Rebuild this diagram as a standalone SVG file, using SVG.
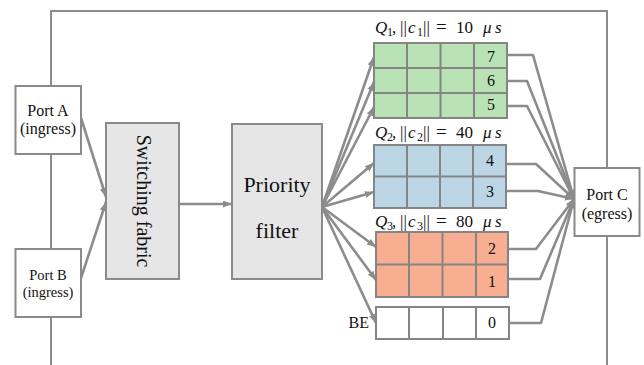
<svg xmlns="http://www.w3.org/2000/svg" width="644" height="365" viewBox="0 0 644 365">
<defs>
<marker id="ah" markerUnits="userSpaceOnUse" markerWidth="10" markerHeight="8" refX="9" refY="3.5" orient="auto">
<path d="M0,0 L9,3.5 L0,7 z" fill="#8c8c8c"/>
</marker>
<style>
.frame{fill:none;stroke:#8c8c8c;stroke-width:2}
.conn{fill:none;stroke:#8c8c8c;stroke-width:2.6;stroke-linejoin:round}
.arr{marker-end:url(#ah)}
.port{fill:#ffffff;stroke:#8a8a8a;stroke-width:2}
.proc{fill:#e6e6e6;stroke:#8a8a8a;stroke-width:2}
.cell{stroke:#858585;stroke-width:2}
.grid{stroke:#858585;stroke-width:2;fill:none}
.t{font-family:"Liberation Serif","Times New Roman",serif;fill:#111}
.it{font-style:italic}
</style>
</defs>
<rect width="644" height="365" fill="#ffffff"/>

<g id="frame">
<path class="frame" d="M51,365 V317 M51,249 V154 M51,86 V11 H607 V168 M607,236 V365"/>
</g>

<g id="connectors">
<line class="conn arr" x1="81" y1="118" x2="106" y2="197"/>
<line class="conn arr" x1="81" y1="278" x2="106" y2="202"/>
<line class="conn arr" x1="179" y1="204" x2="232" y2="204"/>
<line class="conn arr" x1="322" y1="207" x2="374" y2="57"/>
<line class="conn arr" x1="322" y1="207" x2="374" y2="82"/>
<line class="conn arr" x1="322" y1="207" x2="374" y2="107"/>
<line class="conn arr" x1="322" y1="207" x2="374" y2="163"/>
<line class="conn arr" x1="322" y1="207" x2="374" y2="192"/>
<line class="conn arr" x1="322" y1="207" x2="376" y2="247"/>
<line class="conn arr" x1="322" y1="207" x2="376" y2="280"/>
<line class="conn arr" x1="322" y1="207" x2="376" y2="323"/>
<polyline class="conn arr" points="507,55 533,55 574,199"/>
<polyline class="conn arr" points="507,81 527,81 574,199"/>
<polyline class="conn arr" points="507,106 527,106 574,199"/>
<polyline class="conn arr" points="506,164 536,164 574,199"/>
<polyline class="conn arr" points="506,191 538,191 574,199"/>
<polyline class="conn arr" points="508,249 536,249 574,199"/>
<polyline class="conn arr" points="508,279 540,279 574,199"/>
<polyline class="conn arr" points="509,323 541,323 574,199"/>
</g>

<g id="portA">
<rect class="port" x="15.5" y="86" width="65.5" height="68"/>
<text class="t" x="48" y="116" font-size="16" text-anchor="middle">Port A</text>
<text class="t" x="48" y="134" font-size="16" text-anchor="middle">(ingress)</text>
</g>

<g id="portB">
<rect class="port" x="15.5" y="249" width="65.5" height="68"/>
<text class="t" x="48" y="280" font-size="14.5" text-anchor="middle">Port B</text>
<text class="t" x="48" y="297" font-size="14.5" text-anchor="middle">(ingress)</text>
</g>

<g id="portC">
<rect class="port" x="574.5" y="168" width="65" height="68"/>
<text class="t" x="607" y="200" font-size="16" text-anchor="middle">Port C</text>
<text class="t" x="607" y="219" font-size="16" text-anchor="middle">(egress)</text>
</g>

<g id="switching-fabric">
<rect class="proc" x="106" y="123" width="73" height="156"/>
<text class="t" font-size="20" text-anchor="middle" transform="translate(143,201) rotate(90)" y="6">Switching fabric</text>
</g>

<g id="priority-filter">
<rect class="proc" x="232" y="124" width="90" height="155"/>
<text class="t" x="277" y="192" font-size="22" text-anchor="middle">Priority</text>
<text class="t" x="277" y="238" font-size="22" text-anchor="middle">filter</text>
</g>

<g id="Q1">
<rect class="cell" x="374" y="43" width="133" height="75" fill="#b9e2b5"/>
<path class="grid" d="M374,68 H507 M374,93 H507 M407,43 V118 M440.5,43 V118 M474,43 V118"/>
<text class="t" font-size="17" y="33"><tspan class="it" x="375">Q</tspan><tspan x="387" y="36" font-size="12">1</tspan><tspan x="392" y="33">,</tspan><tspan x="400">||</tspan><tspan class="it" x="408">c</tspan><tspan x="417" y="36" font-size="12">1</tspan><tspan x="423" y="33">||</tspan><tspan x="436" font-size="19">=</tspan><tspan x="456">10</tspan><tspan class="it" x="483">μ</tspan><tspan class="it" x="495">s</tspan></text>
<text class="t" x="491" y="62" font-size="16" text-anchor="middle">7</text>
<text class="t" x="491" y="86" font-size="16" text-anchor="middle">6</text>
<text class="t" x="491" y="110" font-size="16" text-anchor="middle">5</text>
</g>

<g id="Q2">
<rect class="cell" x="374" y="145" width="132" height="63" fill="#bcd6e6"/>
<path class="grid" d="M374,176.5 H506 M407,145 V208 M440,145 V208 M473,145 V208"/>
<text class="t" font-size="17" y="138"><tspan class="it" x="375">Q</tspan><tspan x="387" y="141" font-size="12">2</tspan><tspan x="392" y="138">,</tspan><tspan x="400">||</tspan><tspan class="it" x="408">c</tspan><tspan x="417" y="141" font-size="12">2</tspan><tspan x="423" y="138">||</tspan><tspan x="436" font-size="19">=</tspan><tspan x="456">40</tspan><tspan class="it" x="483">μ</tspan><tspan class="it" x="495">s</tspan></text>
<text class="t" x="490" y="166" font-size="16" text-anchor="middle">4</text>
<text class="t" x="490" y="197" font-size="16" text-anchor="middle">3</text>
</g>

<g id="Q3">
<rect class="cell" x="376" y="232" width="132" height="65" fill="#f8ae91"/>
<path class="grid" d="M376,264.5 H508 M409,232 V297 M442.5,232 V297 M476,232 V297"/>
<text class="t" font-size="17" y="227"><tspan class="it" x="375">Q</tspan><tspan x="387" y="230" font-size="12">3</tspan><tspan x="392" y="227">,</tspan><tspan x="400">||</tspan><tspan class="it" x="408">c</tspan><tspan x="417" y="230" font-size="12">3</tspan><tspan x="423" y="227">||</tspan><tspan x="436" font-size="19">=</tspan><tspan x="456">80</tspan><tspan class="it" x="483">μ</tspan><tspan class="it" x="495">s</tspan></text>
<text class="t" x="492" y="254" font-size="16" text-anchor="middle">2</text>
<text class="t" x="492" y="287" font-size="16" text-anchor="middle">1</text>
</g>

<g id="BE">
<rect class="cell" x="376" y="307" width="133" height="32" fill="#ffffff"/>
<path class="grid" d="M409,307 V339 M443,307 V339 M476,307 V339"/>
<text class="t" x="369" y="328" font-size="16" text-anchor="end">BE</text>
<text class="t" x="492" y="328" font-size="16" text-anchor="middle">0</text>
</g>
</svg>
